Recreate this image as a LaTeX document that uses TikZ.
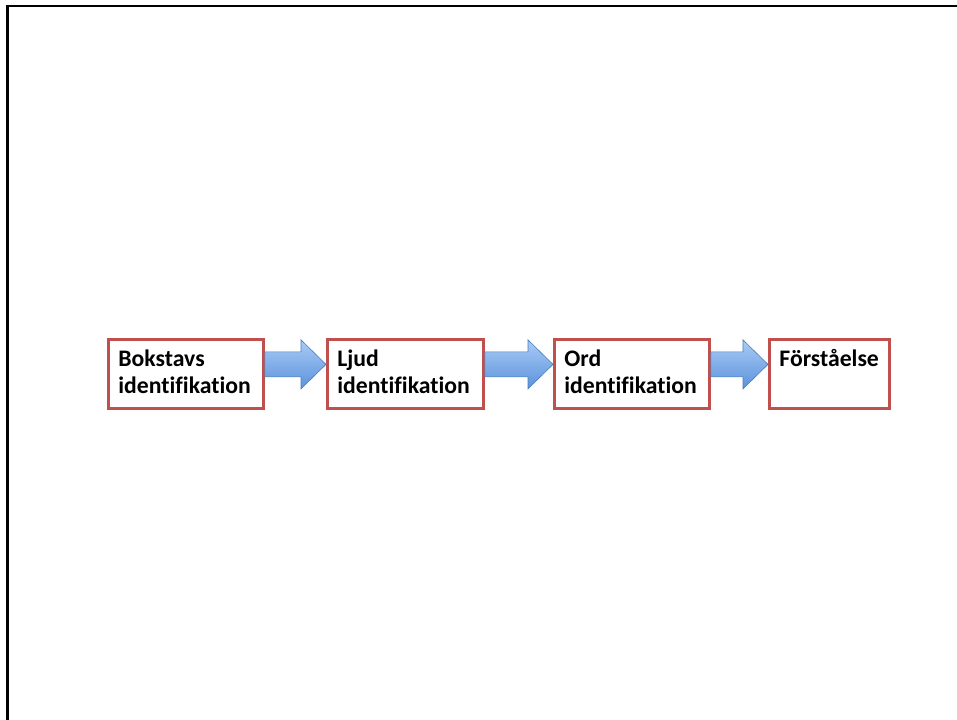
\documentclass[tikz,border=0pt]{standalone}
\usepackage{fontspec}
\setmainfont[Ligatures=NoCommon]{Carlito}
\usetikzlibrary{calc}
\definecolor{boxred}{HTML}{C0504D}
\definecolor{arrline}{HTML}{4A7EBB}
\definecolor{arrtop}{HTML}{A9CBF7}
\definecolor{arrbot}{HTML}{5B92DA}
\tikzset{
  stepbox/.style={draw=boxred, line width=2.8bp, fill=white, rectangle, inner sep=0pt, anchor=north west},
  fatarr/.style={draw=arrline, line width=0.6bp, top color=arrtop, bottom color=arrbot},
  frameline/.style={line width=2.6bp, black}
}
\newcommand{\boxtext}[2]{\parbox[c][69bp][t]{#1}{\vspace{10bp}\hspace*{10bp}\parbox[t]{#1}{\fontsize{23.7bp}{27bp}\selectfont\bfseries #2}}}
\begin{document}
\begin{tikzpicture}[x=1bp,y=1bp]
\useasboundingbox (0,0) rectangle (957,720);
\draw[frameline] (957,713.8) -- (7.2,713.8) -- (7.2,0);
\node[stepbox, minimum width=155bp, minimum height=69bp] (b1) at (107,382) {\boxtext{155bp}{Bokstavs\\identifikation}};
\node[stepbox, minimum width=156bp, minimum height=69bp] (b2) at (326,382) {\boxtext{156bp}{Ljud\\identifikation}};
\node[stepbox, minimum width=155bp, minimum height=69bp] (b3) at (553,382) {\boxtext{155bp}{Ord\\identifikation}};
\node[stepbox, minimum width=120bp, minimum height=69bp] (b4) at (768,382) {\boxtext{120bp}{Förståelse}};
\foreach \a/\b in {b1/b2,b2/b3,b3/b4}{
  \path[fatarr] let \p1=(\a.east), \p2=(\b.west), \n1={\y1+9.5bp} in
    (\x1,\n1+12.5bp) -- (\x2-25bp,\n1+12.5bp) -- (\x2-25bp,\n1+24.5bp) -- (\x2,\n1)
    -- (\x2-25bp,\n1-24.5bp) -- (\x2-25bp,\n1-12.5bp) -- (\x1,\n1-12.5bp) -- cycle;
}
\end{tikzpicture}
\end{document}
